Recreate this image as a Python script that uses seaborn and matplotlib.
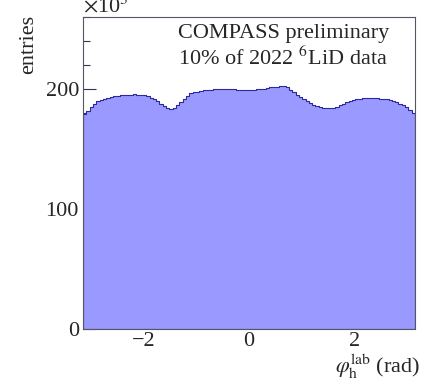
import numpy as np
import pandas as pd
import matplotlib
matplotlib.use("Agg")
import matplotlib.pyplot as plt
import seaborn as sns
from matplotlib.ticker import MultipleLocator

# entries per bin (x10^3), 100 bins over [-pi, pi]
n_bins = 100
entries_k = [
    179, 182, 185, 188, 190, 191, 192, 193, 193.5, 194,
    194.5, 195, 195, 195.5, 195.5, 196, 195.5, 195.5, 195, 194.5,
    193, 191.5, 190, 188, 186, 184, 183.5, 184.5, 186.5, 189,
    192, 194.5, 196.5, 197.5, 198, 198.5, 199, 199.5, 199.5, 200,
    200, 200, 200.5, 200, 200.5, 200, 199.5, 199, 199, 199.5,
    199.5, 199.5, 200, 200, 200.5, 201, 201.5, 202, 202, 202.5,
    202.5, 201.5, 199.5, 197.5, 195.5, 193.5, 191.5, 190, 188.5, 187,
    186, 185, 184.5, 184, 184, 184.5, 185.5, 186.5, 188, 189,
    190, 191, 191.5, 192, 192.5, 192.5, 192.5, 192.5, 192.5, 192,
    192, 191.5, 191, 190, 189, 188, 187, 185.5, 183, 180,
]
x_ticks = [-2, 0, 2]
y_ticks = [0, 100, 200]

edges = list(np.linspace(-np.pi, np.pi, n_bins + 1))
centers = [0.5 * (a + b) for a, b in zip(edges[:-1], edges[1:])]
df = pd.DataFrame({"phi": centers, "entries": entries_k})

sns.set_style("ticks")
plt.rcParams["font.family"] = ["Liberation Serif", "DejaVu Serif"]
plt.rcParams["mathtext.fontset"] = "stix"

fig = plt.figure(figsize=(4.24, 3.9), dpi=100)
ax = fig.add_axes([0.196, 0.156, 0.783, 0.800])

sns.histplot(data=df, x="phi", weights="entries", bins=edges, element="step",
             fill=True, color="#9999ff", alpha=1.0, edgecolor="#2a2a9a",
             linewidth=0.8, ax=ax)

ax.set_xlim(-np.pi, np.pi)
ax.set_ylim(0, 260)
ax.set_xticks(x_ticks)
ax.set_yticks(y_ticks)
ax.xaxis.set_minor_locator(MultipleLocator(0.5))
ax.yaxis.set_minor_locator(MultipleLocator(20))
ax.tick_params(which="both", direction="in", labelsize=16, color="#333355",
               width=0.8)
ax.tick_params(which="major", length=9)
ax.tick_params(which="minor", length=5)
ax.tick_params(axis="x", which="major", pad=2)
ax.tick_params(axis="y", which="major", pad=3)
for s in ax.spines.values():
    s.set_color("#555566")
    s.set_linewidth(0.8)

ax.set_ylabel("entries", fontsize=16, loc="top")
ax.yaxis.set_label_coords(-0.134, 1.006)
ax.set_xlabel(r"$\varphi_{\rm h}^{\rm lab}$ (rad)", fontsize=16, loc="right")
ax.xaxis.set_label_coords(1.015, -0.074)
ax.xaxis.label.set_va("top")

ax.text(0.0, 1.0, r"$\times$10$^{3}$", transform=ax.transAxes, fontsize=16,
        ha="left", va="bottom")
ax.text(0.286, 0.933, "COMPASS preliminary", transform=ax.transAxes,
        fontsize=16, ha="left", va="baseline")
ax.text(0.286, 0.846, r"10% of 2022 $^{6}$LiD data", transform=ax.transAxes,
        fontsize=16, ha="left", va="baseline")

fig.savefig("out.png", dpi=100)
